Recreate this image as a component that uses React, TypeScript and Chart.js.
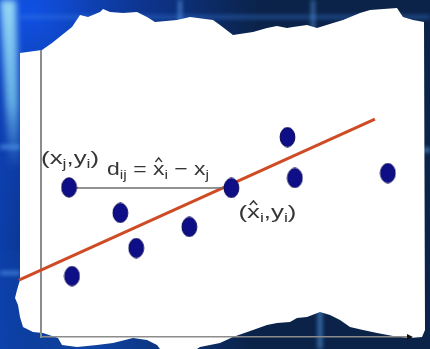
import React, { useEffect, useRef } from "react";
import { Chart, registerables } from "chart.js";

Chart.register(...registerables);

// ---- data (axis units: 0..100 on both axes) ----
const pointsX = [7.6, 21.5, 25.8, 40.2, 51.6, 66.8, 68.8, 94.0, 8.4];
const pointsY = [52.3, 43.4, 31.1, 38.5, 52.1, 69.9, 55.6, 57.3, 21.3];
const fitX = [-6.0, 90.5];
const fitY = [19.9, 76.2];
const distX = [7.6, 51.6];
const distY = [52.1, 52.1];

type Seg = { t: string; sub?: boolean; hat?: boolean };
const labelJ: Seg[] = [{ t: "(x" }, { t: "j", sub: true }, { t: "," }, { t: "y" }, { t: "i", sub: true }, { t: ")" }];
const labelD: Seg[] = [
  { t: "d" }, { t: "ij", sub: true }, { t: " = " }, { t: "x", hat: true }, { t: "i", sub: true },
  { t: " \u2212 " }, { t: "x" }, { t: "j", sub: true },
];
const labelI: Seg[] = [{ t: "(" }, { t: "x", hat: true }, { t: "i", sub: true }, { t: "," }, { t: "y" }, { t: "i", sub: true }, { t: ")" }];

const PAPER: [number, number][] = [
  [20, 53], [42, 50], [52, 43], [72, 27], [80, 15], [88, 17], [100, 12], [103, 9], [110, 12], [123, 13],
  [137, 12], [147, 17], [155, 22], [177, 20], [190, 17], [213, 20], [220, 25], [233, 35], [253, 32],
  [267, 28], [277, 26], [287, 28], [293, 27], [307, 25], [317, 28], [333, 23], [343, 20], [360, 13],
  [370, 10], [397, 8], [403, 17], [413, 20], [424, 22], [425, 330], [422, 337], [410, 338], [393, 336],
  [377, 333], [363, 330], [350, 327], [340, 320], [330, 315], [320, 312], [307, 317], [297, 318],
  [290, 322], [277, 323], [267, 325], [253, 330], [233, 337], [220, 343], [200, 347], [197, 349],
  [160, 349], [157, 345], [147, 340], [133, 338], [113, 343], [97, 345], [77, 347], [62, 345],
  [58, 338], [43, 333], [33, 332], [23, 327], [20, 317], [18, 305], [15, 298], [17, 290], [20, 280],
];

function glowLine(ctx: CanvasRenderingContext2D, x1: number, y1: number, x2: number, y2: number, color: string, w: number, blur: number) {
  ctx.save();
  ctx.filter = `blur(${blur}px)`;
  ctx.strokeStyle = color;
  ctx.lineWidth = w;
  ctx.beginPath();
  ctx.moveTo(x1, y1);
  ctx.lineTo(x2, y2);
  ctx.stroke();
  ctx.restore();
}

function drawBackdrop(ctx: CanvasRenderingContext2D, W: number, H: number) {
  ctx.save();
  ctx.fillStyle = "#0b2349";
  ctx.fillRect(0, 0, W, H);
  let g = ctx.createLinearGradient(0, 0, 90, 0);
  g.addColorStop(0, "rgba(12,62,170,1)");
  g.addColorStop(1, "rgba(12,62,170,0)");
  ctx.fillStyle = g;
  ctx.fillRect(0, 0, 90, H);
  const r = ctx.createRadialGradient(30, 10, 5, 30, 10, 230);
  r.addColorStop(0, "rgba(16,80,225,1)");
  r.addColorStop(0.5, "rgba(14,64,185,0.6)");
  r.addColorStop(1, "rgba(14,64,180,0)");
  ctx.fillStyle = r;
  ctx.fillRect(0, 0, W, H);
  g = ctx.createRadialGradient(90, 349, 5, 90, 349, 160);
  g.addColorStop(0, "rgba(14,70,175,0.9)");
  g.addColorStop(1, "rgba(14,70,175,0)");
  ctx.fillStyle = g;
  ctx.fillRect(0, 250, W, 100);
  ctx.save();
  ctx.filter = "blur(3px)";
  const b = ctx.createLinearGradient(0, 0, 0, 170);
  b.addColorStop(0, "rgba(150,215,245,1)");
  b.addColorStop(0.6, "rgba(120,200,240,0.8)");
  b.addColorStop(1, "rgba(100,180,240,0)");
  ctx.fillStyle = b;
  ctx.beginPath();
  ctx.moveTo(0, 0);
  ctx.lineTo(16, 0);
  ctx.lineTo(20, 170);
  ctx.lineTo(9, 170);
  ctx.closePath();
  ctx.fill();
  ctx.restore();
  glowLine(ctx, 20, 17, 430, 17, "rgba(60,130,230,0.55)", 3, 2);
  glowLine(ctx, 180, 0, 180, 35, "rgba(90,160,240,0.8)", 3, 2);
  glowLine(ctx, 313, 0, 313, 30, "rgba(90,160,240,0.7)", 3, 2);
  glowLine(ctx, 0, 147, 20, 147, "rgba(80,150,235,0.8)", 4, 2);
  glowLine(ctx, 0, 273, 20, 273, "rgba(80,150,235,0.7)", 4, 2);
  glowLine(ctx, 424, 150, 430, 150, "rgba(90,160,230,0.8)", 4, 2);
  glowLine(ctx, 320, 305, 320, 349, "rgba(80,150,220,0.75)", 4, 2);
  ctx.fillStyle = "#ffffff";
  ctx.beginPath();
  PAPER.forEach(([x, y], i) => (i === 0 ? ctx.moveTo(x, y) : ctx.lineTo(x, y)));
  ctx.closePath();
  ctx.fill();
  ctx.restore();
}

function drawRich(ctx: CanvasRenderingContext2D, segs: Seg[], x: number, y: number, targetW: number) {
  const main = '19px "Liberation Sans", Arial, sans-serif';
  const sub = '13px "Liberation Sans", Arial, sans-serif';
  const widths = segs.map((s) => {
    ctx.font = s.sub ? sub : main;
    return ctx.measureText(s.t).width;
  });
  const total = widths.reduce((a, b) => a + b, 0);
  const k = targetW / total;
  ctx.save();
  ctx.translate(x, y);
  ctx.scale(k, 1);
  ctx.fillStyle = "#363636";
  ctx.strokeStyle = "#363636";
  ctx.textBaseline = "alphabetic";
  let cx = 0;
  segs.forEach((s, i) => {
    ctx.font = s.sub ? sub : main;
    ctx.fillText(s.t, cx, s.sub ? 4 : 0);
    if (s.hat) {
      const w = widths[i];
      ctx.lineWidth = 1.3;
      ctx.beginPath();
      ctx.moveTo(cx + w * 0.22, -13);
      ctx.lineTo(cx + w * 0.5, -17);
      ctx.lineTo(cx + w * 0.78, -13);
      ctx.stroke();
    }
    cx += widths[i];
  });
  ctx.restore();
}

function makeDot(): HTMLCanvasElement {
  const c = document.createElement("canvas");
  c.width = 17;
  c.height = 21;
  const x = c.getContext("2d")!;
  x.fillStyle = "#0e0e86";
  x.strokeStyle = "#07075a";
  x.lineWidth = 1;
  x.beginPath();
  x.ellipse(8.5, 10.5, 7.4, 9.7, 0, 0, Math.PI * 2);
  x.fill();
  x.stroke();
  return c;
}

export default function App() {
  const ref = useRef<HTMLCanvasElement | null>(null);

  useEffect(() => {
    document.body.style.margin = "0";
    const canvas = ref.current!;
    const dot = makeDot();

    const backdrop = {
      id: "backdrop",
      beforeDraw(chart: any) {
        drawBackdrop(chart.ctx, chart.width, chart.height);
      },
    };

    const annotate = {
      id: "annotate",
      afterDraw(chart: any) {
        const ctx = chart.ctx as CanvasRenderingContext2D;
        const xs = chart.scales.x;
        const ys = chart.scales.y;
        const p1x = xs.getPixelForValue(pointsX[0]);
        const p1y = ys.getPixelForValue(pointsY[0]);
        const p5x = xs.getPixelForValue(pointsX[4]);
        const p5y = ys.getPixelForValue(pointsY[4]);
        const lx = xs.getPixelForValue(distX[0]);
        const ly = ys.getPixelForValue(distY[0]);
        drawRich(ctx, labelJ, p1x - 28, p1y - 23, 58);
        drawRich(ctx, labelD, lx + 38, ly - 13, 102);
        drawRich(ctx, labelI, p5x + 7, p5y + 30, 58);
        const ax = chart.chartArea.right;
        const ay = chart.chartArea.bottom;
        ctx.save();
        ctx.fillStyle = "#111";
        ctx.beginPath();
        ctx.moveTo(ax + 3, ay);
        ctx.lineTo(ax - 3, ay - 3);
        ctx.lineTo(ax - 3, ay + 3);
        ctx.closePath();
        ctx.fill();
        ctx.restore();
      },
    };

    const chart = new Chart(canvas, {
      type: "scatter",
      data: {
        datasets: [
          {
            data: pointsX.map((x, i) => ({ x, y: pointsY[i] })),
            pointStyle: dot as any,
            pointRadius: 9,
            pointHoverRadius: 9,
            showLine: false,
            order: 0,
          },
          {
            data: distX.map((x, i) => ({ x, y: distY[i] })),
            showLine: true,
            borderColor: "#6e6e6e",
            borderWidth: 1.5,
            pointRadius: 0,
            order: 1,
          },
          {
            data: fitX.map((x, i) => ({ x, y: fitY[i] })),
            showLine: true,
            borderColor: "#cf4b25",
            borderWidth: 3,
            pointRadius: 0,
            clip: false as any,
            order: 2,
          },
        ],
      },
      options: {
        animation: false,
        responsive: false,
        devicePixelRatio: 1,
        events: [],
        layout: { padding: { left: 41, right: 20, top: 51, bottom: 12 } },
        plugins: { legend: { display: false }, tooltip: { enabled: false } },
        scales: {
          x: {
            type: "linear",
            min: 0,
            max: 100,
            grid: { display: false, drawTicks: false },
            ticks: { display: false },
            border: { display: true, color: "#8c8c8c", width: 1.5 },
            afterFit: (s: any) => {
              s.height = 0;
            },
          },
          y: {
            type: "linear",
            min: 0,
            max: 100,
            grid: { display: false, drawTicks: false },
            ticks: { display: false },
            border: { display: true, color: "#8c8c8c", width: 2 },
            afterFit: (s: any) => {
              s.width = 0;
            },
          },
        },
      } as any,
      plugins: [backdrop, annotate],
    });
    return () => chart.destroy();
  }, []);

  return (
    <div style={{ width: 430, height: 349 }}>
      <canvas ref={ref} width={430} height={349} style={{ display: "block" }} />
    </div>
  );
}
